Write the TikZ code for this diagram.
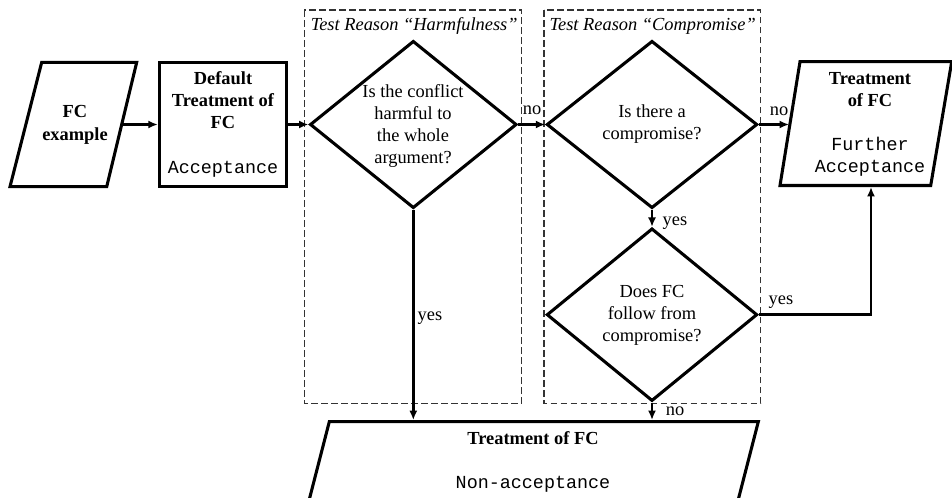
\documentclass[tikz,border=0pt]{standalone}
\usepackage{fontspec}
\setmainfont{Liberation Serif}
\setmonofont{Liberation Mono}
\usetikzlibrary{shapes.geometric,arrows.meta}

\begin{document}
\begin{tikzpicture}[
  x=0.75pt, y=-0.75pt,
  every node/.style={font=\fontsize{13.8}{16.5}\selectfont},
  outline/.style={draw, line width=2.3pt, line join=miter},
  rectbox/.style={outline, rectangle, inner sep=1pt},
  decision/.style={outline, diamond, inner sep=0pt},
  txt/.style={align=center, inner sep=0pt},
  conn/.style={line width=2pt, -{Latex[length=7pt,width=6pt]}},
  lbl/.style={inner sep=0pt, anchor=base},
  grouptitle/.style={inner sep=0pt, anchor=base west, font=\fontsize{13.8}{16.5}\selectfont\itshape},
  groupframe/.style={draw=black!80, line width=0.8pt, dash pattern=on 5pt off 2.5pt}
]
\useasboundingbox (0,0) rectangle (952,497);
\clip (0,0) rectangle (952,497);

% test groups
\draw[groupframe] (304.3,10) rectangle (521.7,403.3);
\draw[groupframe] (544,10) rectangle (760.7,403.3);
\node[grouptitle] (harmtitle) at (310.5,30) {Test Reason “Harmfulness”};
\node[grouptitle] (comptitle) at (549.3,30) {Test Reason “Compromise”};

% input: FC example
\draw[outline] (41.7,62.3) -- (136.7,62.3) -- (106.7,186.7) -- (10,186.7) -- cycle;
\coordinate (fcex-out) at (121.7,124.5);
\node[txt] (fcex) at (75,125) {\textbf{FC}\\[1pt]\textbf{example}};

% default treatment
\node[rectbox, minimum width=127.4*0.75pt, minimum height=124.4*0.75pt, align=center]
  (defbox) at (223,124.5)
  {\textbf{Default}\\\textbf{Treatment of}\\\textbf{FC}\\[17pt]\texttt{Acceptance}};

% decisions
\node[decision, minimum width=206.7*0.75pt, minimum height=167.3*0.75pt] (d1) at (413.3,124.5) {};
\node[txt] (d1t) at (413,126.5) {Is the conflict\\harmful to\\the whole\\argument?};

\node[decision, minimum width=210.6*0.75pt, minimum height=167.3*0.75pt] (d2) at (652,124.5) {};
\node[txt] (d2t) at (652,124.5) {Is there a\\compromise?};

\node[decision, minimum width=210.6*0.75pt, minimum height=172.7*0.75pt] (d3) at (652,314.7) {};
\node[txt] (d3t) at (652,315.5) {Does FC\\follow from\\compromise?};

% output: further acceptance
\draw[outline] (800,61.7) -- (951.7,61.7) -- (930.7,185.5) -- (780,185.5) -- cycle;
\coordinate (fa-in) at (789,124.5);
\coordinate (fa-out) at (871,187);
\node[txt] (fatext) at (870,124.5)
  {\textbf{Treatment}\\\textbf{of FC}\\[16.4pt]\texttt{Further}\\\texttt{Acceptance}};

% output: non-acceptance
\draw[outline] (329.3,421.7) -- (758.3,421.7) -- (733,520) -- (304,520) -- cycle;
\coordinate (na-top) at (533,420);
\node[txt] (natext) at (533,462)
  {\textbf{Treatment of FC}\\[16.5pt]\texttt{Non-acceptance}};

% connectors
\draw[conn] (fcex-out) -- (defbox.west);
\draw[conn] (defbox.east) -- (d1.west);
\draw[conn] (d1.east) -- (d2.west);
\draw[conn] (d2.east) -- (fa-in);
\draw[conn] (d2.south) -- (d3.north);
\draw[conn] (d3.east) -| (fa-out);
\draw[conn] (d1.south) -- (d1.south |- na-top);
\draw[conn] (d3.south) -- (d3.south |- na-top);

% branch labels
\node[lbl] (no1) at (532,114) {no};
\node[lbl] (no2) at (779,115) {no};
\node[lbl] (yes1) at (675,225) {yes};
\node[lbl] (yes2) at (781,304) {yes};
\node[lbl] (yes3) at (430,320) {yes};
\node[lbl] (no3) at (675,415) {no};
\end{tikzpicture}
\end{document}
